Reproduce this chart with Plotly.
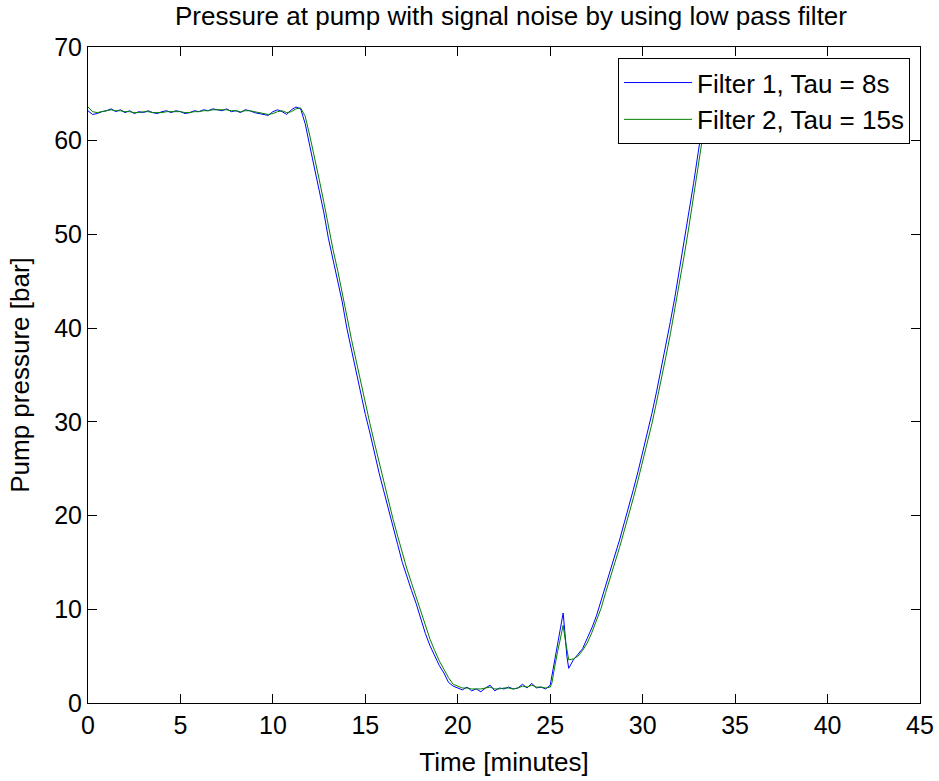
import plotly.graph_objects as go

# Time axis [minutes]
time_min = [
    0.00, 0.25, 0.50, 0.75, 1.00, 1.25, 1.50, 1.75, 2.00, 2.25, 2.50, 2.75,
    3.00, 3.25, 3.50, 3.75, 4.00, 4.25, 4.50, 4.75, 5.00, 5.25, 5.50, 5.75,
    6.00, 6.25, 6.50, 6.75, 7.00, 7.25, 7.50, 7.75, 8.00, 8.25, 8.50, 8.75,
    9.00, 9.25, 9.50, 9.75, 10.00, 10.25, 10.50, 10.75, 11.00, 11.25, 11.50,
    11.75, 12.00, 12.25, 12.50, 12.75, 13.00, 13.25, 13.50, 13.75, 14.00,
    14.25, 14.50, 14.75, 15.00, 15.25, 15.50, 15.75, 16.00, 16.25, 16.50,
    16.75, 17.00, 17.25, 17.50, 17.75, 18.00, 18.25, 18.50, 18.75, 19.00,
    19.25, 19.50, 19.75, 20.00,
    20.25, 20.50, 20.75, 21.00, 21.25, 21.50, 21.75, 22.00, 22.25, 22.50,
    22.75, 23.00, 23.25, 23.50, 23.75, 24.00, 24.25, 24.50, 24.75, 25.00,
    25.10, 25.20, 25.30, 25.40, 25.50, 25.60, 25.70, 25.80, 25.90, 26.00,
    26.25, 26.50, 26.75, 27.00, 27.25, 27.50, 27.75, 28.00, 28.25, 28.50,
    28.75, 29.00, 29.25, 29.50, 29.75, 30.00, 30.25, 30.50, 30.75, 31.00,
    31.25, 31.50, 31.75, 32.00, 32.25, 32.50, 32.75, 33.00, 33.25, 33.50,
]

# Filter 1, Tau = 8s  [bar]
filter1_bar = [
    63.2, 62.8, 62.9, 63.1, 63.2, 63.4, 63.1, 63.3, 63.0, 63.2, 62.9, 63.1,
    63.0, 63.2, 63.0, 62.9, 63.1, 63.2, 63.0, 63.2, 63.1, 62.9, 63.0, 63.2,
    63.1, 63.3, 63.2, 63.4, 63.3, 63.2, 63.4, 63.1, 63.2, 63.0, 63.3, 63.2,
    63.0, 62.9, 62.8, 62.7, 63.1, 63.3, 63.1, 62.8, 63.3, 63.6, 63.4,
    61.8, 59.4, 57.1, 54.8, 52.4, 49.6, 47.3, 45.1, 42.8, 40.0,
    37.6, 35.4, 33.0, 30.8, 28.8, 26.6, 24.5, 22.6, 20.6, 18.6,
    16.9, 15.0, 13.4, 12.0, 10.6, 9.0, 7.4, 6.1, 5.1, 4.0,
    3.2, 2.2, 1.8, 1.6,
    1.4, 1.7, 1.3, 1.5, 1.2, 1.6, 1.9, 1.3, 1.6, 1.5,
    1.7, 1.5, 1.6, 2.0, 1.6, 2.1, 1.6, 1.7, 1.5, 1.9,
    3.0, 4.5, 5.6, 6.6, 7.6, 8.7, 9.6, 7.4, 5.0, 3.7,
    4.6, 5.2, 5.8, 6.9, 8.0, 9.3, 10.9, 12.6, 14.0, 15.8,
    17.4, 19.2, 20.9, 22.8, 24.7, 26.7, 28.7, 30.9, 33.2, 35.6,
    38.1, 40.7, 43.4, 46.3, 49.2, 52.3, 55.4, 58.7, 62.0, 65.3,
]

# Filter 2, Tau = 15s  [bar]
filter2_bar = [
    63.6, 63.1, 63.0, 63.1, 63.2, 63.3, 63.2, 63.2, 63.1, 63.1, 63.0, 63.0,
    63.1, 63.1, 63.0, 63.0, 63.0, 63.1, 63.1, 63.1, 63.1, 63.0, 63.0, 63.1,
    63.1, 63.2, 63.2, 63.3, 63.3, 63.3, 63.3, 63.2, 63.2, 63.1, 63.2, 63.2,
    63.1, 63.0, 62.9, 62.8, 62.9, 63.1, 63.2, 63.0, 63.1, 63.4, 63.5,
    62.6, 60.5, 58.3, 55.9, 53.5, 50.9, 48.4, 46.2, 43.9, 41.3,
    38.8, 36.5, 34.2, 31.9, 29.8, 27.7, 25.6, 23.6, 21.6, 19.6,
    17.8, 16.0, 14.3, 12.8, 11.3, 9.8, 8.2, 6.8, 5.6, 4.5,
    3.6, 2.7, 2.0, 1.8,
    1.6, 1.6, 1.5, 1.5, 1.5, 1.6, 1.7, 1.5, 1.5, 1.6,
    1.6, 1.5, 1.6, 1.8, 1.7, 1.9, 1.7, 1.7, 1.6, 1.7,
    2.2, 3.4, 4.6, 5.5, 6.4, 7.3, 8.3, 6.9, 5.5, 4.6,
    4.7, 5.0, 5.6, 6.4, 7.5, 8.7, 10.1, 11.8, 13.3, 15.0,
    16.6, 18.3, 20.1, 21.9, 23.8, 25.7, 27.7, 29.8, 32.1, 34.4,
    36.9, 39.4, 42.1, 44.9, 47.8, 50.8, 53.9, 57.1, 60.4, 63.7,
]

x_ticks = [0, 5, 10, 15, 20, 25, 30, 35, 40, 45]
y_ticks = [0, 10, 20, 30, 40, 50, 60, 70]

FONT = "Liberation Sans, Arial, Helvetica, sans-serif"

fig = go.Figure()
fig.add_trace(go.Scatter(x=time_min, y=filter1_bar, mode="lines",
                         name="Filter 1, Tau = 8s",
                         line=dict(color="#0000FF", width=1)))
fig.add_trace(go.Scatter(x=time_min, y=filter2_bar, mode="lines",
                         name="Filter 2, Tau = 15s",
                         line=dict(color="#008000", width=1)))

axis_common = dict(
    showline=True, linecolor="black", linewidth=1, mirror="ticks",
    ticks="inside", ticklen=9, tickcolor="black", tickwidth=1,
    showgrid=False, zeroline=False, automargin=False,
    tickfont=dict(family=FONT, size=25, color="black"),
)

fig.update_layout(
    width=939, height=781,
    margin=dict(l=88, r=19, t=47, b=78),
    paper_bgcolor="white", plot_bgcolor="white",
    font=dict(family=FONT, color="black", size=25),
    title=dict(text="Pressure at pump with signal noise by using low pass filter",
               x=511 / 939, xanchor="center", y=1 - 16 / 781, yanchor="middle",
               yref="container", font=dict(family=FONT, size=26, color="black")),
    xaxis=dict(range=[0, 45], tickvals=x_ticks,
               title=dict(text="Time [minutes]", standoff=14,
                          font=dict(family=FONT, size=26)),
               **axis_common),
    yaxis=dict(range=[0, 70], tickvals=y_ticks,
               title=dict(text="Pump pressure [bar]", standoff=17,
                          font=dict(family=FONT, size=26)),
               **axis_common),
    showlegend=True,
    legend=dict(x=0.988, xanchor="right", y=0.983, yanchor="top",
                bgcolor="white", bordercolor="black", borderwidth=1,
                font=dict(family=FONT, size=26, color="black"),
                itemwidth=68, tracegroupgap=0),
)

fig.write_html("out.html")
